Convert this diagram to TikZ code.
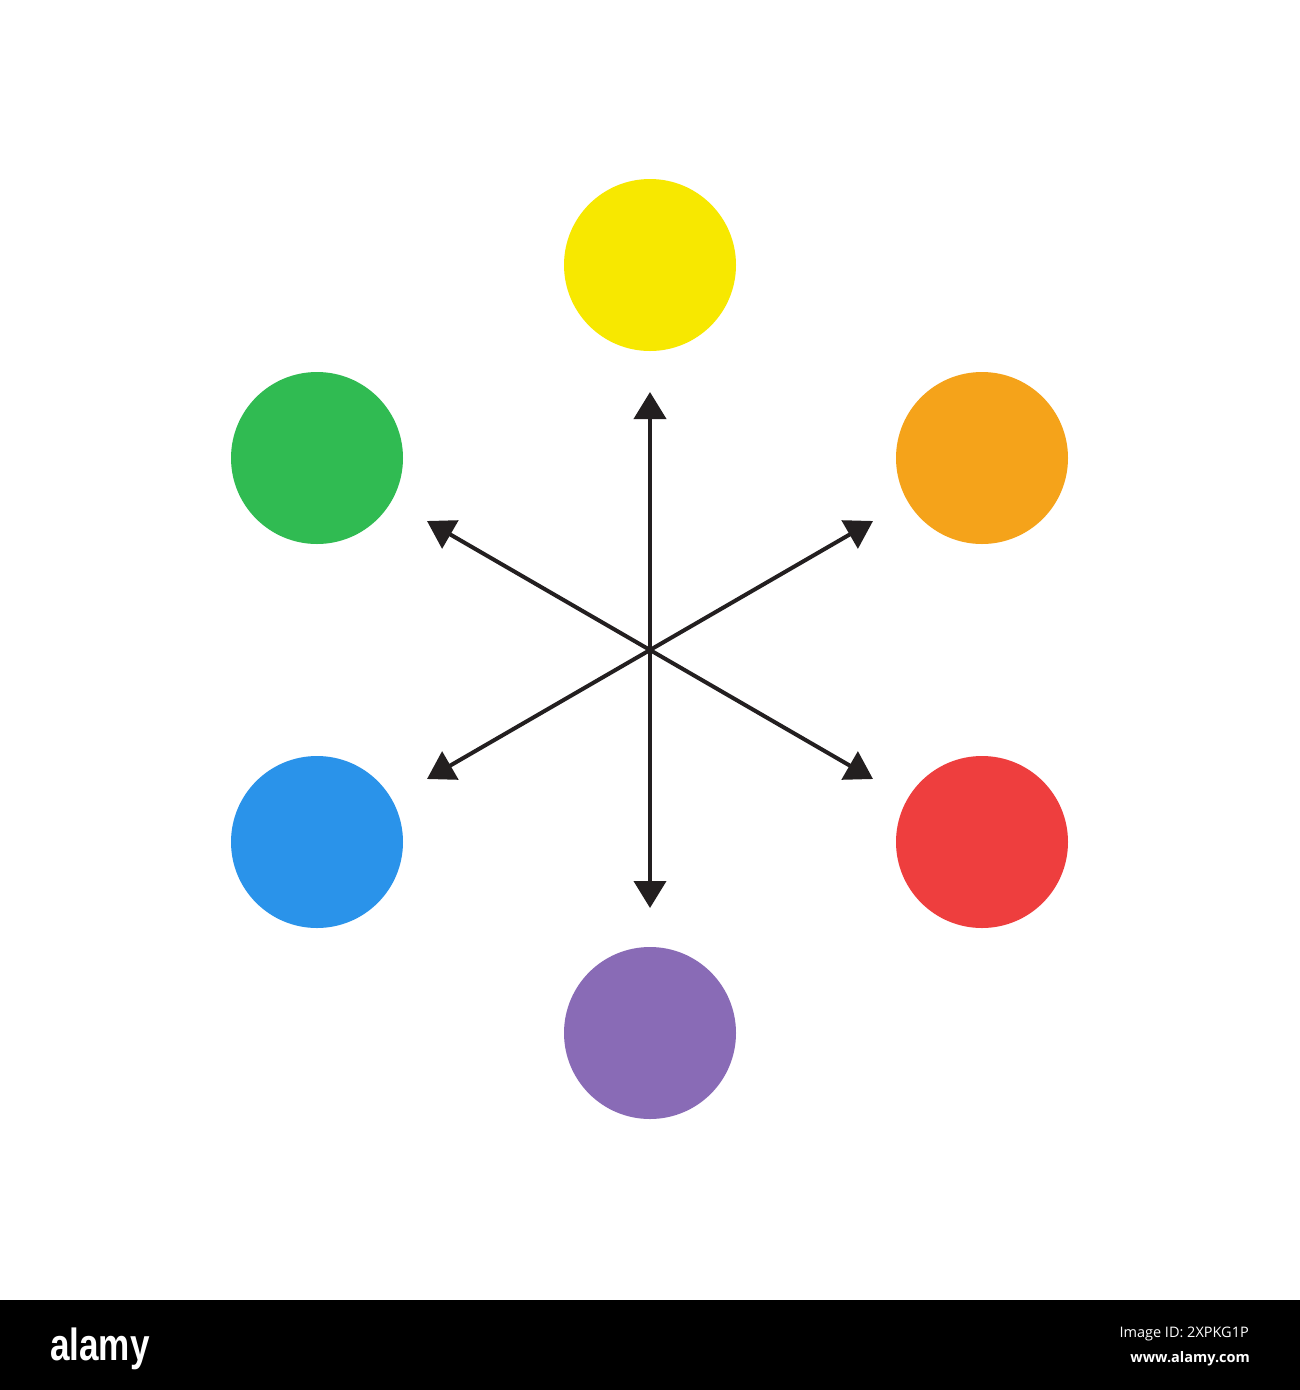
\documentclass[tikz,border=0pt]{standalone}
\usepackage{fontspec}
\setmainfont{Open Sans}
\newfontfamily\logofont{Liberation Sans}
\usetikzlibrary{arrows.meta}
\definecolor{cyellow}{HTML}{F7E800}
\definecolor{corange}{HTML}{F5A31A}
\definecolor{cred}{HTML}{EE3E3E}
\definecolor{cpurple}{HTML}{896BB6}
\definecolor{cblue}{HTML}{2A93EA}
\definecolor{cgreen}{HTML}{30BB52}
\definecolor{arrowink}{HTML}{231F20}
\tikzset{
  dot/.style={circle, minimum size=172pt, inner sep=0pt, draw=none},
  ray/.style={arrowink, line width=4pt, {Triangle[length=27pt,width=32pt]}-{Triangle[length=27pt,width=32pt]}},
  barlabel/.style={text=white, inner sep=0pt}
}
\begin{document}
\begin{tikzpicture}[x=1pt,y=-1pt]
\useasboundingbox (0,0) rectangle (1300,1390);
\fill[white] (0,0) rectangle (1300,1390);
\node[dot, fill=cyellow] (yellow) at (650,265) {};
\node[dot, fill=corange] (orange) at (982,458) {};
\node[dot, fill=cred] (red) at (982,842) {};
\node[dot, fill=cpurple] (purple) at (650,1033) {};
\node[dot, fill=cblue] (blue) at (317,842) {};
\node[dot, fill=cgreen] (green) at (317,458) {};
\coordinate (c) at (650,650);
\coordinate (tN) at (650,392);
\coordinate (tS) at (650,908);
\coordinate (tNE) at (873,521);
\coordinate (tSW) at (427,779);
\coordinate (tNW) at (427,521);
\coordinate (tSE) at (873,779);
\draw[ray] (tN) -- (c) -- (tS);
\draw[ray] (tNE) -- (c) -- (tSW);
\draw[ray] (tNW) -- (c) -- (tSE);
\fill[black] (0,1300) rectangle (1300,1390);
\node[barlabel, anchor=base west] (logo) at (50,1360) {\scalebox{0.78}[1]{\logofont\bfseries\fontsize{45}{45}\selectfont alamy}};
\node[barlabel, anchor=base east] (imgid) at (1249,1337) {\fontsize{14.5}{14.5}\selectfont Image ID: 2XPKG1P};
\node[barlabel, anchor=base east] (site) at (1250,1362) {\fontsize{14.5}{14.5}\selectfont\bfseries www.alamy.com};
\end{tikzpicture}
\end{document}
